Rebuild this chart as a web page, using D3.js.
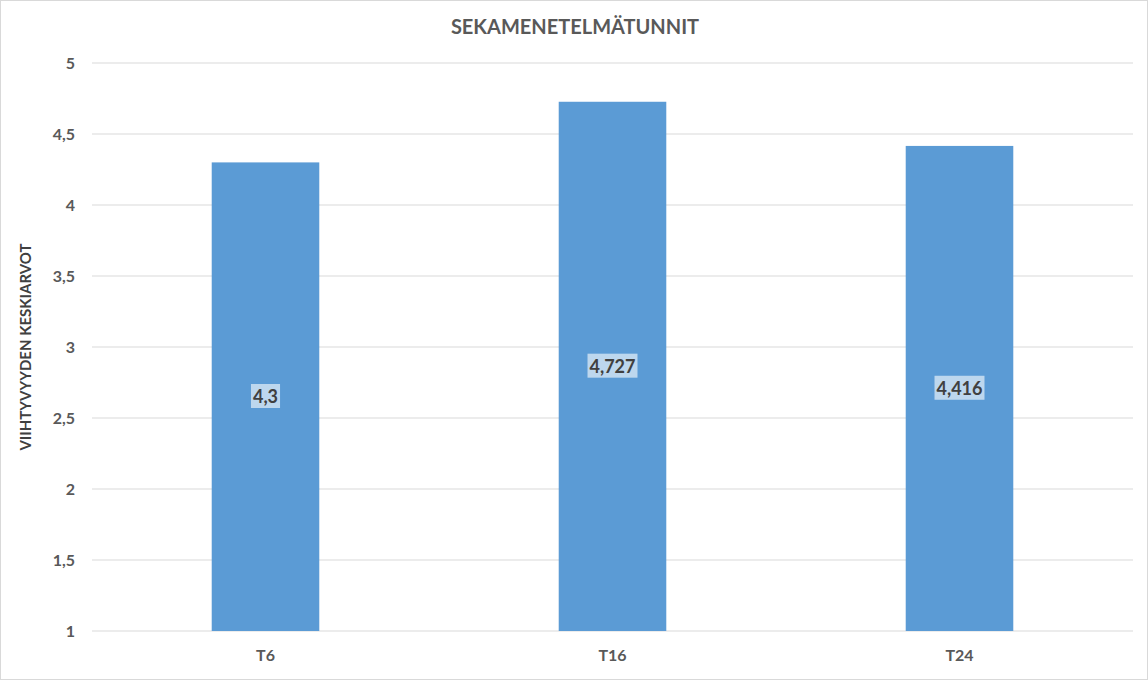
<!DOCTYPE html>
<html>
<head>
<meta charset="utf-8">
<script src="https://cdn.jsdelivr.net/npm/d3@7"></script>
<style>
  body { margin: 0; background: #fff; }
  svg { font-family: Lato, "Open Sans", sans-serif; }
</style>
</head>
<body>
<svg id="chart"></svg>
<script>
// chart data
const categories = ["T6", "T16", "T24"];
const values = [4.3, 4.727, 4.416];
const valueLabels = ["4,3", "4,727", "4,416"];
const yTicks = [1, 1.5, 2, 2.5, 3, 3.5, 4, 4.5, 5];

const W = 1148, H = 680;
const margin = { top: 63, right: 15, bottom: 49, left: 92 };
const width = W - margin.left - margin.right;
const height = H - margin.top - margin.bottom;

const root = d3.select("#chart").attr("width", W).attr("height", H);

// outer border
root.append("rect")
  .attr("x", 0.5).attr("y", 0.5)
  .attr("width", W - 1).attr("height", H - 1)
  .attr("fill", "#fff").attr("stroke", "#d9d9d9");

root.append("text")
  .attr("x", W / 2 + 1).attr("y", 34)
  .attr("text-anchor", "middle")
  .style("font-size", "20px").style("font-weight", "bold")
  .style("fill", "#595959")
  .text("SEKAMENETELMÄTUNNIT");

root.append("text")
  .attr("transform", `translate(31,${margin.top + height / 2}) rotate(-90)`)
  .attr("text-anchor", "middle")
  .style("font-size", "15px").style("font-weight", "bold")
  .style("fill", "#404040")
  .text("VIIHTYVYYDEN KESKIARVOT");

const svg = root.append("g")
  .attr("transform", `translate(${margin.left},${margin.top})`);

const x = d3.scaleBand().domain(categories).range([0, width]).paddingInner(0.69).paddingOuter(0.345);
const y = d3.scaleLinear().domain([1, 5]).range([height, 0]);

// gridlines
svg.selectAll(".grid")
  .data(yTicks)
  .join("line")
  .attr("x1", 0).attr("x2", width)
  .attr("y1", d => y(d)).attr("y2", d => y(d))
  .attr("stroke", "#d9d9d9");

// y tick labels
svg.selectAll(".ytick")
  .data(yTicks)
  .join("text")
  .attr("x", -17).attr("y", d => y(d))
  .attr("dy", "0.35em")
  .attr("text-anchor", "end")
  .style("font-size", "16px").style("font-weight", "bold")
  .style("fill", "#595959")
  .text(d => String(d).replace(".", ","));

// bars
svg.selectAll(".bar")
  .data(values)
  .join("rect")
  .attr("x", (d, i) => x(categories[i]))
  .attr("y", d => y(d))
  .attr("width", x.bandwidth())
  .attr("height", d => y(1) - y(d))
  .attr("fill", "#5b9bd5");

// x labels
svg.selectAll(".xlab")
  .data(categories)
  .join("text")
  .attr("x", d => x(d) + x.bandwidth() / 2)
  .attr("y", height + 30)
  .attr("text-anchor", "middle")
  .style("font-size", "16px").style("font-weight", "bold")
  .style("fill", "#595959")
  .text(d => d);

// value labels
const lab = svg.selectAll(".vlab")
  .data(values)
  .join("g")
  .attr("transform", (d, i) => `translate(${x(categories[i]) + x.bandwidth() / 2},${(y(d) + y(1)) / 2})`);

lab.append("text")
  .attr("text-anchor", "middle")
  .attr("dy", "0.35em")
  .style("font-size", "18px").style("font-weight", "bold")
  .style("fill", "#404040")
  .text((d, i) => valueLabels[i])
  .each(function () {
    const b = this.getBBox();
    d3.select(this.parentNode).insert("rect", "text")
      .attr("x", b.x - 2).attr("y", b.y - 1)
      .attr("width", b.width + 4).attr("height", b.height + 2)
      .attr("fill", "rgba(255,255,255,0.6)");
  });
</script>
</body>
</html>
